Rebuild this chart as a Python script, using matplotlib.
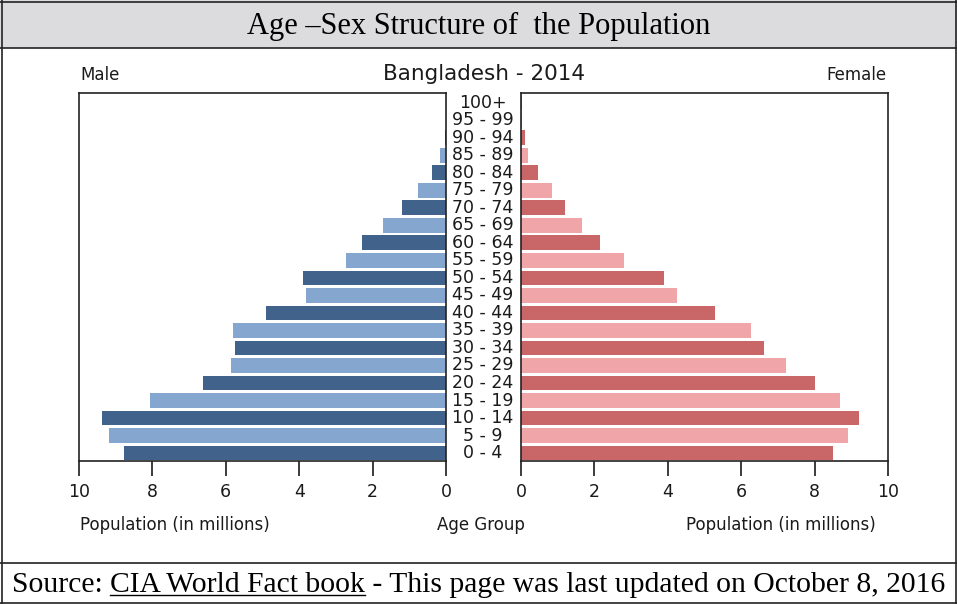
import matplotlib
matplotlib.use("Agg")
import matplotlib.pyplot as plt
import matplotlib.transforms as mtransforms
from matplotlib.lines import Line2D
from matplotlib.patches import Rectangle

# --------------------------------
# Data (millions)
# --------------------------------
age_groups = ["0 - 4", "5 - 9", "10 - 14", "15 - 19", "20 - 24", "25 - 29",
              "30 - 34", "35 - 39", "40 - 44", "45 - 49", "50 - 54", "55 - 59",
              "60 - 64", "65 - 69", "70 - 74", "75 - 79", "80 - 84", "85 - 89",
              "90 - 94", "95 - 99", "100+"]
male = [8.77, 9.18, 9.37, 8.07, 6.61, 5.87, 5.76, 5.80, 4.90, 3.82, 3.89,
        2.73, 2.29, 1.72, 1.21, 0.75, 0.39, 0.16, 0.04, 0.01, 0.005]
female = [8.50, 8.91, 9.21, 8.68, 8.02, 7.22, 6.62, 6.26, 5.29, 4.24, 3.90,
          2.82, 2.15, 1.67, 1.21, 0.84, 0.46, 0.20, 0.10, 0.03, 0.02]
x_ticks = [0, 2, 4, 6, 8, 10]

male_colors = ["#41628a", "#84a6cf"]
female_colors = ["#c86668", "#f0a6a8"]

W, H = 957, 604
fig = plt.figure(figsize=(W / 100, H / 100), dpi=100)

# --------------------------------
# Frame: header, footer, border
# --------------------------------
fig.patches.append(Rectangle((0, 1 - 48 / H), 1, 48 / H, transform=fig.transFigure,
                             facecolor="#dcdcde", edgecolor="none", zorder=0))
border = dict(color="#222222", lw=1.2, transform=fig.transFigure)
fig.lines.append(Line2D([1.5 / W, 1.5 / W], [0, 1], **border))
fig.lines.append(Line2D([1 - 1.5 / W, 1 - 1.5 / W], [0, 1], **border))
fig.lines.append(Line2D([0, 1], [1 - 1.5 / H, 1 - 1.5 / H], **border))
fig.lines.append(Line2D([0, 1], [1.0 / H, 1.0 / H], **border))
fig.lines.append(Line2D([0, 1], [1 - 48 / H, 1 - 48 / H], **border))
fig.lines.append(Line2D([0, 1], [1 - 563 / H, 1 - 563 / H], **border))

fig.text(0.5, 1 - 26 / H, "Age \u2013Sex Structure of  the Population",
         family="Liberation Serif", fontsize=22, ha="center", va="center")

# --------------------------------
# Pyramid axes
# --------------------------------
ax_m = fig.add_axes([79 / W, 1 - 461 / H, (446 - 79) / W, 368 / H])
ax_f = fig.add_axes([521 / W, 1 - 461 / H, (888 - 521) / W, 368 / H])

ypos = list(range(len(age_groups)))
ax_m.barh(ypos, male, height=0.84,
          color=[male_colors[i % 2] for i in ypos])
ax_f.barh(ypos, female, height=0.84,
          color=[female_colors[i % 2] for i in ypos])

tc = "#1a1a1a"
ax_m.set_xlim(10, 0)
ax_f.set_xlim(0, 10)
for ax in (ax_m, ax_f):
    ax.set_ylim(-0.45, 20.55)
    ax.set_yticks([])
    ax.set_xticks(x_ticks)
    ax.tick_params(axis="x", direction="out", length=11, width=1.2,
                   labelsize=12.5, pad=5, colors=tc)
    for s in ax.spines.values():
        s.set_color("#222222")
        s.set_linewidth(1.2)

# age labels in the gap
trans = mtransforms.blended_transform_factory(fig.transFigure, ax_m.transData)
for y, lab in zip(ypos, age_groups):
    ax_m.text(483 / W, y, lab, transform=trans, ha="center", va="center",
              fontsize=12.5, color=tc, clip_on=False)

fig.text(80 / W, 1 - 75 / H, "Male", fontsize=12, ha="left", va="center", color=tc)
fig.text(484 / W, 1 - 74 / H, "Bangladesh - 2014", fontsize=15.5, ha="center",
         va="center", color=tc)
fig.text(886 / W, 1 - 75 / H, "Female", fontsize=12, ha="right", va="center", color=tc)

fig.text(80 / W, 1 - 525 / H, "Population (in millions)", fontsize=12,
         ha="left", va="center", color=tc)
fig.text(481 / W, 1 - 525 / H, "Age Group", fontsize=12, ha="center",
         va="center", color=tc)
fig.text(876 / W, 1 - 525 / H, "Population (in millions)", fontsize=12,
         ha="right", va="center", color=tc)

# --------------------------------
# Footer with underlined link text
# --------------------------------
renderer = fig.canvas.get_renderer()
foot = dict(family="Liberation Serif", fontsize=21.3, va="baseline")
base_y = 1 - 592 / H
t1 = fig.text(12 / W, base_y, "Source: ", **foot)
bb1 = t1.get_window_extent(renderer)
t2 = fig.text(bb1.x1 / W, base_y, "CIA World Fact book", **foot)
bb2 = t2.get_window_extent(renderer)
t3 = fig.text(bb2.x1 / W, base_y, " - This page was last updated on October 8, 2016", **foot)
fig.lines.append(Line2D([bb2.x0 / W, bb2.x1 / W], [base_y - 3 / H, base_y - 3 / H],
                        color="black", lw=1.0, transform=fig.transFigure))

fig.savefig("out.png", dpi=100)
